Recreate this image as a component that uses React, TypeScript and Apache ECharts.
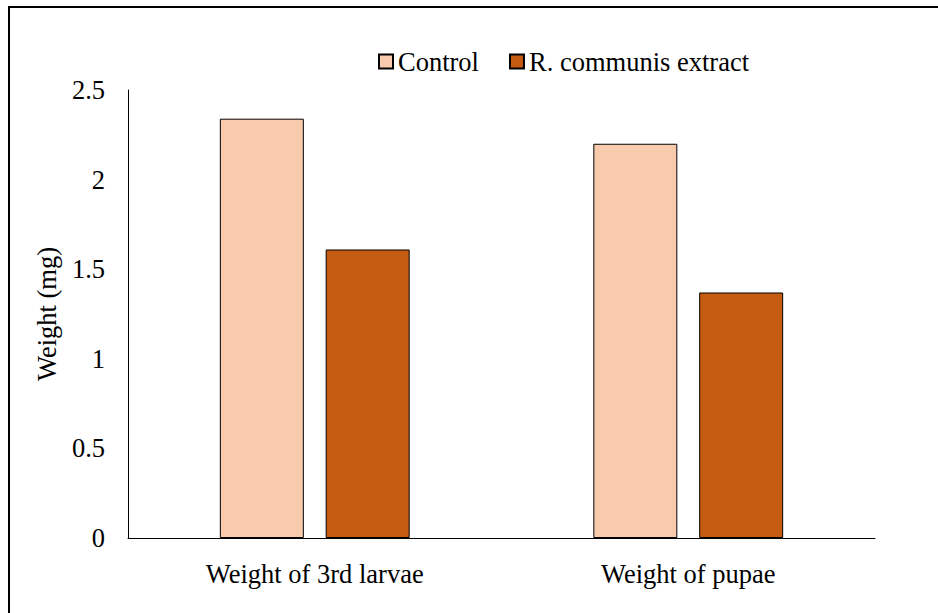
import React, { useEffect, useRef } from "react";
import * as echarts from "echarts";

const categories = ["Weight of 3rd larvae", "Weight of pupae"];
const controlValues = [2.34, 2.2];
const extractValues = [1.61, 1.37];
const seriesNames = ["Control", "R. communis extract"];

export default function App() {
  const ref = useRef<HTMLDivElement>(null);
  useEffect(() => {
    const chart = echarts.init(ref.current!, null, { renderer: "svg" });
    const font = "Liberation Serif";
    const fs = 26.5;
    chart.setOption({
      animation: false,
      backgroundColor: "#ffffff",
      textStyle: { fontFamily: font },
      graphic: [
        {
          type: "rect",
          shape: { x: 9, y: 7, width: 2000, height: 2000 },
          style: { fill: "none", stroke: "#000", lineWidth: 2 },
          silent: true,
        },
      ],
      legend: {
        data: seriesNames,
        left: 373,
        top: 43,
        icon: "rect",
        itemWidth: 14,
        itemHeight: 14,
        itemGap: 30,
        textStyle: { fontSize: fs, color: "#000", fontFamily: font },
      },
      grid: { left: 128, right: 63, top: 90, bottom: 75, containLabel: false },
      xAxis: {
        type: "category",
        data: categories,
        axisLine: { show: true, lineStyle: { color: "#000", width: 1 } },
        axisTick: { show: false },
        axisLabel: { fontSize: fs, color: "#000", margin: 22, fontFamily: font },
      },
      yAxis: {
        type: "value",
        min: 0,
        max: 2.5,
        interval: 0.5,
        name: "Weight (mg)",
        nameLocation: "middle",
        nameGap: 67,
        nameTextStyle: { fontSize: fs, color: "#000", fontFamily: font },
        axisLine: { show: true, lineStyle: { color: "#000", width: 1 } },
        axisTick: { show: false },
        splitLine: { show: false },
        axisLabel: { fontSize: fs, color: "#000", margin: 23, fontFamily: font },
      },
      series: [
        {
          name: seriesNames[0],
          type: "bar",
          data: controlValues,
          barWidth: 84,
          barGap: "26%",
          itemStyle: { color: "#F8CBAD", borderColor: "#000", borderWidth: 1 },
        },
        {
          name: seriesNames[1],
          type: "bar",
          data: extractValues,
          barWidth: 84,
          barGap: "26%",
          itemStyle: { color: "#C55A11", borderColor: "#000", borderWidth: 1 },
        },
      ],
    });
    return () => chart.dispose();
  }, []);
  return (
    <div
      ref={ref}
      style={{ position: "fixed", left: 0, top: 0, width: 938, height: 613 }}
    />
  );
}
